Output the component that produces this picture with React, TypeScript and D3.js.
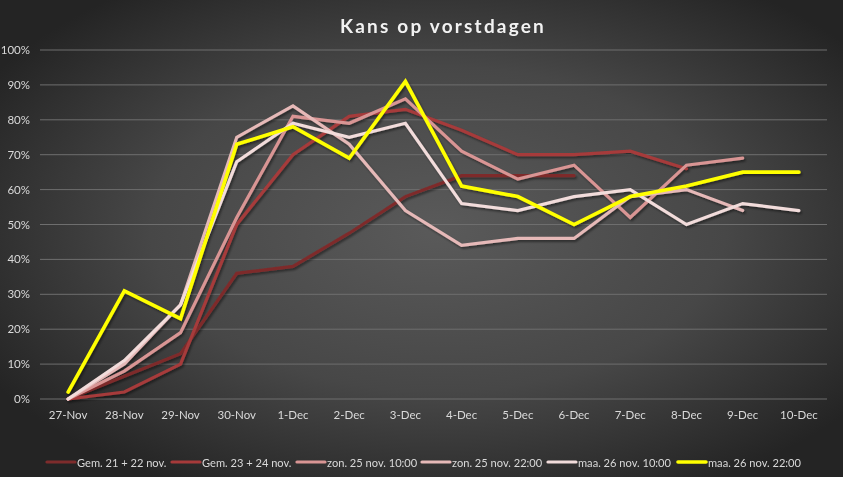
import React from "react";
import * as d3 from "d3";

const categories = ["27-Nov","28-Nov","29-Nov","30-Nov","1-Dec","2-Dec","3-Dec","4-Dec","5-Dec","6-Dec","7-Dec","8-Dec","9-Dec","10-Dec"];
const yTicks = [0,0.1,0.2,0.3,0.4,0.5,0.6,0.7,0.8,0.9,1.0];
const seriesNames = ["Gem. 21 + 22 nov.","Gem. 23 + 24 nov.","zon. 25 nov. 10:00","zon. 25 nov. 22:00","maa. 26 nov. 10:00","maa. 26 nov. 22:00"];
const seriesColors = ["#7E2C2C","#A63A3A","#D99594","#E6B9B8","#F2DCDB","#FFFF00"];
const gem2122 = [0,0.065,0.13,0.36,0.38,0.475,0.58,0.64,0.64,0.64,null,null,null,null];
const gem2324 = [0,0.02,0.10,0.50,0.70,0.81,0.83,0.77,0.70,0.70,0.71,0.66,null,null];
const zon1000 = [0,0.08,0.19,0.52,0.81,0.79,0.86,0.71,0.63,0.67,0.52,0.67,0.69,null];
const zon2200 = [0,0.10,0.27,0.75,0.84,0.73,0.54,0.44,0.46,0.46,0.58,0.60,0.54,null];
const maa1000 = [0,0.11,0.27,0.68,0.79,0.75,0.79,0.56,0.54,0.58,0.60,0.50,0.56,0.54];
const maa2200 = [0.02,0.31,0.23,0.73,0.78,0.69,0.91,0.61,0.58,0.50,0.58,0.61,0.65,0.65];
const seriesValues = [gem2122, gem2324, zon1000, zon2200, maa1000, maa2200];

const W = 843, H = 477;

export default function App() {
  const x = d3.scaleBand<string>().domain(categories).range([40, 827]);
  const y = d3.scaleLinear().domain([0, 1]).range([399, 50]);
  const cx = (c: string) => (x(c) as number) + x.bandwidth() / 2;
  const line = d3.line<number | null>()
    .defined(d => d !== null)
    .x((_, i) => cx(categories[i]))
    .y(d => y(d as number));
  const pct = d3.format(".0%");
  const legendX = [47, 172, 297, 422, 548, 678];
  const font = "Lato, 'Open Sans', 'Liberation Sans', sans-serif";
  return (
    <svg width={W} height={H} style={{ position: "fixed", left: 0, top: 0 }} fontFamily={font}>
      <defs>
        <radialGradient id="bg" cx="52%" cy="48%" r="62%" fx="52%" fy="48%">
          <stop offset="0%" stopColor="#5a5a5a" />
          <stop offset="55%" stopColor="#474747" />
          <stop offset="100%" stopColor="#242424" />
        </radialGradient>
        <filter id="sh" x="-5%" y="-5%" width="110%" height="115%">
          <feDropShadow dx="1.5" dy="2" stdDeviation="1.2" floodColor="#000" floodOpacity="0.45" />
        </filter>
      </defs>
      <rect x={0} y={0} width={W} height={H} fill="url(#bg)" />
      <text x={443} y={33} textAnchor="middle" fill="#F2F2F2" fontSize={19} fontWeight="bold" letterSpacing={2.2}>Kans op vorstdagen</text>
      {yTicks.map(t => (
        <g key={t}>
          <line x1={40} x2={827} y1={y(t)} y2={y(t)} stroke="#6E6E6E" strokeWidth={1} />
          <text x={30} y={y(t) + 4} textAnchor="end" fill="#D9D9D9" fontSize={11.5}>{pct(t)}</text>
        </g>
      ))}
      {categories.map(c => (
        <text key={c} x={cx(c)} y={418.5} textAnchor="middle" fill="#D9D9D9" fontSize={11.5}>{c}</text>
      ))}
      <g filter="url(#sh)">
        {seriesValues.map((vals, i) => (
          <path key={i} d={line(vals) || ""} fill="none" stroke={seriesColors[i]} strokeWidth={i === 5 ? 3.6 : 3.2} strokeLinejoin="miter" strokeLinecap="round" />
        ))}
      </g>
      {seriesNames.map((n, i) => (
        <g key={n}>
          <line x1={legendX[i]} x2={legendX[i] + 28} y1={462} y2={462} stroke={seriesColors[i]} strokeWidth={i === 5 ? 3.6 : 3.2} strokeLinecap="round" />
          <text x={legendX[i] + 30} y={466.5} fill="#D9D9D9" fontSize={11.1}>{n}</text>
        </g>
      ))}
    </svg>
  );
}
